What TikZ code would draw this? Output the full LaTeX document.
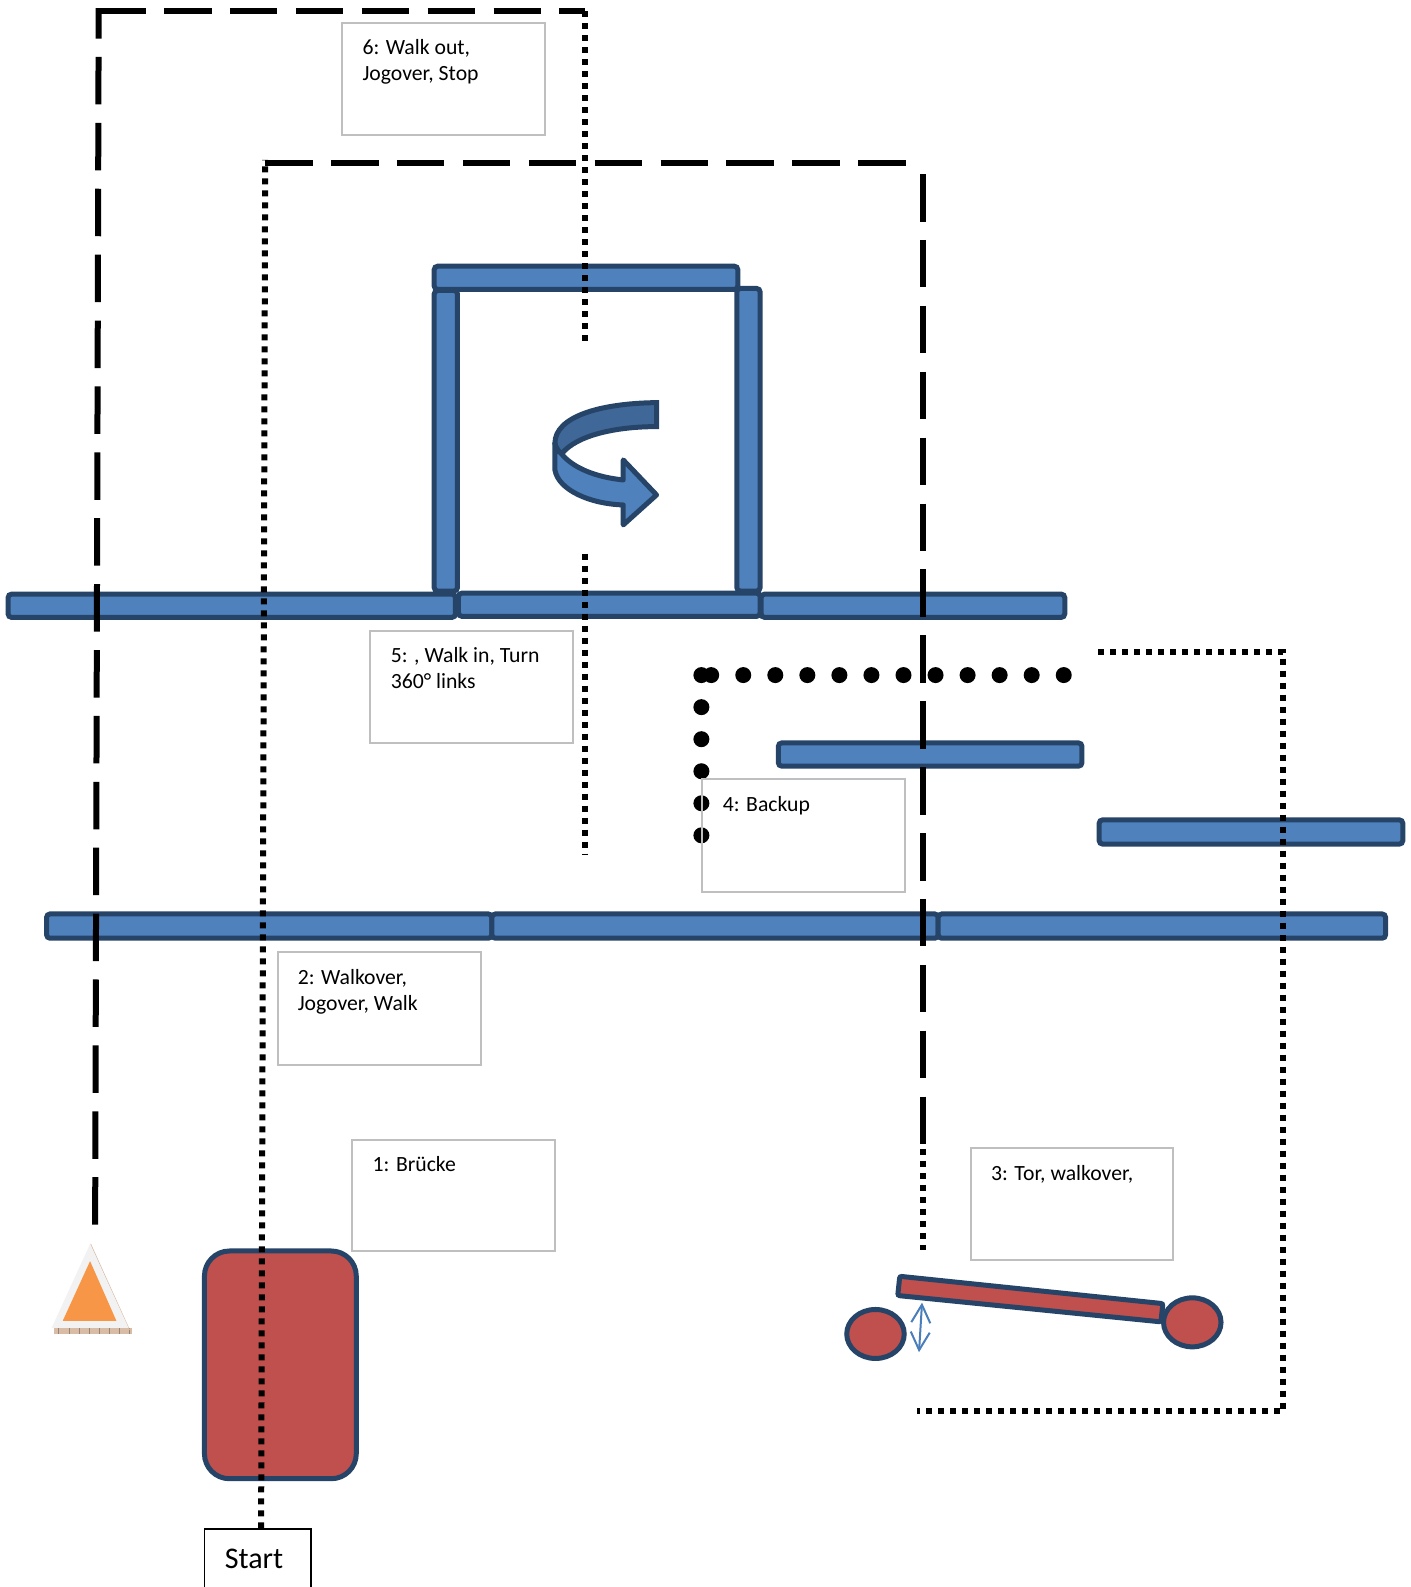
\documentclass[tikz,border=0pt]{standalone}
\usepackage{fontspec}
\setmainfont{Carlito}
\usetikzlibrary{fit,arrows.meta,shapes.geometric}
\definecolor{barline}{HTML}{264468}
\definecolor{barblue}{HTML}{4F81BD}
\definecolor{barred}{HTML}{C0504D}
\definecolor{darkblue}{HTML}{3F6797}
\definecolor{boxgray}{HTML}{BFBFBF}
\definecolor{coneorange}{HTML}{F79646}
\definecolor{conegray}{HTML}{F2F2F2}
\definecolor{conebase}{HTML}{D9BCA6}
\definecolor{thinblue}{HTML}{4A7EBB}
\tikzset{
  bluebar/.style={draw=barline,fill=barblue,line width=5pt,rounded corners=3.5pt,inner sep=0pt},
  redshape/.style={draw=barline,fill=barred,line width=5pt},
  textbox/.style={draw=boxgray,line width=2pt,inner sep=0pt},
  boxtext/.style={font=\fontsize{21.7}{26}\selectfont,align=left,anchor=north west,inner sep=0pt},
  longdash/.style={line width=6pt,dash pattern=on 47.5pt off 18.4pt},
  squaredot/.style={line width=6pt,dash pattern=on 6pt off 6pt},
  rounddot/.style={line width=16pt,line cap=round,dash pattern=on 0pt off 32.05pt},
}
\begin{document}
\begin{tikzpicture}[x=1.01219pt,y=-1.01219pt]
\useasboundingbox (0,0) rectangle (1394,1568);
\clip (0,0) rectangle (1394,1568);
% horizontal rails and pen
\node[bluebar,fit={(8,587)(450,610)}] (railAa) {};
\node[bluebar,fit={(453,586)(751,609)}] (railAb) {};
\node[bluebar,fit={(752,587)(1052,610)}] (railAc) {};
\node[bluebar,fit={(429,287)(452,584)}] (penL) {};
\node[bluebar,fit={(728,285)(751,584)}] (penR) {};
\node[bluebar,fit={(429,263)(729,286)}] (penT) {};
\node[bluebar,fit={(769,734)(1069,757)}] (railB) {};
\node[bluebar,fit={(1086,810)(1386,834)}] (railC) {};
\node[bluebar,fit={(46,903)(486,927)}] (railDa) {};
\node[bluebar,fit={(486,903)(927,927)}] (railDb) {};
\node[bluebar,fit={(927,903)(1369,927)}] (railDc) {};
% bridge
\node[redshape,rounded corners=25pt,inner sep=0pt,fit={(202,1236)(352,1461)}] (bridge) {};
% gate
\node[redshape,ellipse,inner sep=0pt,minimum width=57.5pt,minimum height=49pt] (postL) at (865,1318) {};
\node[redshape,ellipse,inner sep=0pt,minimum width=57.5pt,minimum height=49pt] (postR) at (1178,1306.5) {};
\draw[redshape,rounded corners=2pt] (889,1261) -- (1149,1288) -- (1147,1306) -- (887,1280) -- cycle;
\coordinate (swingA) at (911,1287);
\coordinate (swingB) at (908,1336);
\draw[thinblue,line width=2pt,{Straight Barb[length=18pt,width=19pt]}-{Straight Barb[length=18pt,width=19pt]}] (swingA) -- (swingB);
% cone
\fill[conebase] (53,1312) -- (130,1312) -- (130,1318) -- (53,1318) -- cycle;
\foreach \x in {58,68,...,128} \draw[conebase!70!black,line width=.6pt] (\x,1312) -- (\x,1318);
\draw[conebase,line width=.8pt] (89.5,1229) -- (128,1314);
\fill[conegray] (89,1229) -- (127,1312) -- (51,1312) -- cycle;
\fill[coneorange] (89,1246) -- (115,1305) -- (62,1305) -- cycle;
% turn arrow
\begin{scope}[shift={(513.7,375.4)},x=0.3333pt,y=-0.3333pt,line width=5pt,draw=barline,line join=miter]
\draw[fill=darkblue] (410,68) .. controls (240,70) and (105,110) .. (105,190) .. controls (107,200) and (112,212) .. (125,222) .. controls (170,165) and (290,140) .. (410,140) -- cycle;
\draw[fill=barblue,line join=round] (105,190) -- (105,270) .. controls (115,330) and (210,372) .. (310,375) -- (310,435) -- (410,345) -- (310,240) -- (310,300) .. controls (230,292) and (160,265) .. (125,222) .. controls (112,212) and (107,200) .. (105,190) -- cycle;
\end{scope}
% text boxes
\node[textbox,fit={(338,23)(538,133)}] (box6) {};
\node[boxtext] at (358,39) {6: Walk out,\\Jogover, Stop};
\node[textbox,fit={(366,623)(566,734)}] (box5) {};
\node[boxtext] at (386,639) {5: , Walk in, Turn\\360° links};
\node[textbox,fit={(275,941)(475,1052)}] (box2) {};
\node[boxtext] at (294,957.5) {2: Walkover,\\Jogover, Walk};
\node[textbox,fit={(348,1126)(548,1236)}] (box1) {};
\node[boxtext] at (368,1142.5) {1: Brücke};
\node[textbox,fit={(959,1134)(1159,1245)}] (box3) {};
\node[boxtext] at (979,1151.5) {3: Tor, walkover,};
% start
\node[draw=black,line width=1.8pt,inner sep=0pt,fit={(202,1511)(307,1600)}] (start) {};
\node[font=\fontsize{30}{34}\selectfont,anchor=base west,inner sep=0pt] (startlabel) at (222,1550) {Start};
% routes
\coordinate (a1) at (94,1210);
\coordinate (a2) at (97.5,8);
\coordinate (a0) at (97,11);
\coordinate (a3) at (578,11);
\coordinate (a4) at (578,337);
\coordinate (b1) at (578,547);
\coordinate (b2) at (578,845);
\coordinate (c1) at (258,1510);
\coordinate (c2) at (262,158);
\coordinate (c0) at (262,161);
\coordinate (d2) at (905,161);
\coordinate (d1) at (912,172);
\coordinate (d3) at (912,1135);
\coordinate (d4) at (912,1235);
\coordinate (e1) at (1085,644);
\coordinate (e2) at (1268,644);
\coordinate (e3) at (1268,1394);
\coordinate (e4) at (906,1394);
\coordinate (f1) at (1051,667);
\coordinate (f2) at (693,667);
\coordinate (f3) at (693,825.5);
\coordinate (f4) at (701.5,667);
\draw[longdash] (a1) -- (a2);
\draw[longdash] (a0) -- (a3);
\draw[squaredot] (a3) -- (a4);
\draw[squaredot] (b1) -- (b2);
\draw[squaredot] (c1) -- (c2);
\draw[longdash] (c0) -- (d2);
\draw[longdash] (d1) -- (d3);
\draw[squaredot] (d3) -- (d4);
\draw[squaredot] (e1) -- (e2) -- (e3) -- (e4);
\draw[rounddot] (f1) -- (f4);
\draw[rounddot] (f2) -- (f3);
% box over the dots
\node[textbox,fit={(694,770)(894,881)}] (box4) {};
\node[boxtext] at (714,786.5) {4: Backup};
\end{tikzpicture}
\end{document}
